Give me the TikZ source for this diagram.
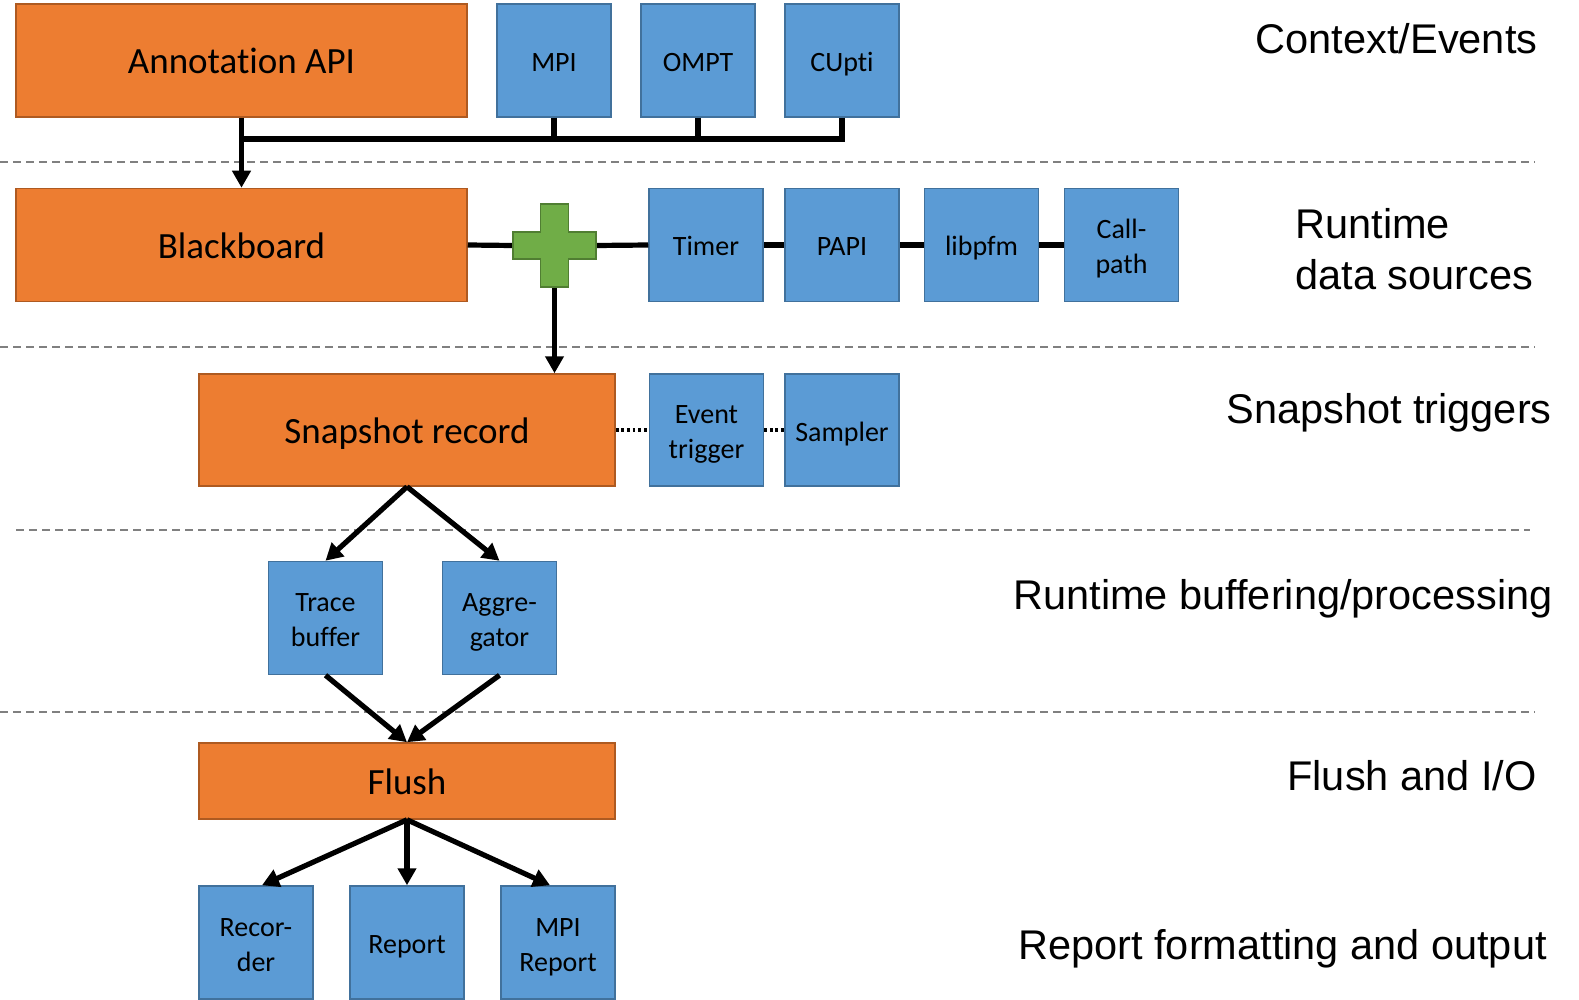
\documentclass[tikz,border=0pt]{standalone}
\usepackage{fontspec}
\usepackage{graphicx}
\setmainfont[Ligatures=NoCommon]{Carlito}
\newfontfamily\labfont{Liberation Sans}
\usetikzlibrary{arrows.meta,calc}
\newcommand\bstrt{\rule[-3pt]{0pt}{17pt}}
\newcommand\ostrt{\rule[-4.3pt]{0pt}{22pt}}
\newcommand\twol[2]{\rule{0pt}{14pt}#1\\#2\rule[-3pt]{0pt}{3pt}}
\definecolor{orng}{HTML}{ED7D31}
\definecolor{obord}{HTML}{AE5A21}
\definecolor{blu}{HTML}{5B9BD5}
\definecolor{bbord}{HTML}{41719C}
\definecolor{grn}{HTML}{70AD47}
\definecolor{gbord}{HTML}{507E32}
\definecolor{sepcol}{HTML}{808080}
\tikzset{
  orangebox/.style={rectangle, draw=obord, fill=orng, line width=0.75pt, inner sep=0pt,
    minimum height=56.5pt, font=\fontsize{18.5}{22}\selectfont,
    execute at begin node=\ostrt, execute at end node=\ostrt},
  bluebox/.style={rectangle, draw=bbord, fill=blu, line width=0.75pt, inner sep=0pt,
    minimum width=57pt, minimum height=56.5pt, align=center, font=\fontsize{14}{17.5}\selectfont},
  onel/.style={execute at begin node=\bstrt, execute at end node=\bstrt},
  conn/.style={line width=2.6pt, black},
  arr/.style={conn, -{Triangle[length=8.5pt,width=9pt]}},
  dotl/.style={line width=1.7pt, black, dash pattern=on 1.4pt off 1.4pt},
  sepline/.style={sepcol, line width=1pt, dash pattern=on 4pt off 2.5pt},
  lab/.style={anchor=base west, inner sep=0pt, align=left,
    font=\labfont\fontsize{20.75}{25.5}\selectfont},
}
\begin{document}
\begin{tikzpicture}[x=0.5pt,y=-0.5pt]
\useasboundingbox (0,0) rectangle (1579,1000);
% separators
\draw[sepline] (0,162) -- (1535,162);
\draw[sepline] (0,347) -- (1535,347);
\draw[sepline] (16,530) -- (1530,530);
\draw[sepline] (0,712) -- (1535,712);
% row 1
\node[orangebox, minimum width=225.5pt] (annot) at (241.5,60.5) {Annotation API};
\node[bluebox, onel] (mpi) at (554,60.5) {MPI};
\node[bluebox, onel] (ompt) at (698,60.5) {OMPT};
\node[bluebox, onel] (cupti) at (842,60.5) {CUpti};
% row 2
\node[orangebox, minimum width=225.5pt] (bb) at (241.5,245) {Blackboard};
\node[inner sep=0pt, minimum width=41.5pt, minimum height=41.5pt] (plus) at (554.5,245.5) {};
\node[bluebox, onel] (timer) at (706,245) {Timer};
\node[bluebox, onel] (papi) at (842,245) {PAPI};
\node[bluebox, onel] (libpfm) at (981.5,245) {libpfm};
\node[bluebox] (callpath) at (1121.5,245) {\twol{Call-}{path}};
% row 3
\node[orangebox, minimum width=208pt, minimum height=56pt] (snap) at (407,430) {Snapshot record};
\node[bluebox, minimum height=56pt] (evt) at (706.5,430) {\twol{Event}{trigger}};
\node[bluebox, onel, minimum height=56pt] (sampler) at (842,430) {Sampler};
% row 4
\node[bluebox] (trace) at (325.5,618) {\twol{Trace}{buffer}};
\node[bluebox] (agg) at (499.5,618) {\twol{Aggre-}{gator}};
% row 5
\node[orangebox, minimum width=208pt, minimum height=38pt] (flush) at (407,781) {Flush};
% row 6
\node[bluebox] (rec) at (256,942.5) {\twol{Recor-}{der}};
\node[bluebox, onel] (rep) at (407,942.5) {Report};
\node[bluebox] (mpirep) at (558,942.5) {\twol{MPI}{Report}};
% connectors row 1
\coordinate (busL) at (241.5,139);
\draw[conn] (mpi.south) -- (mpi.south |- busL);
\draw[conn] (ompt.south) -- (ompt.south |- busL);
\draw[conn] (cupti.south) |- (busL);
\draw[arr] (annot.south) -- (bb.north);
% connectors row 2
\draw[conn] (bb.east) -- (plus.west);
\draw[conn] (plus.east) -- (timer.west);
\draw[conn] (timer.east) -- (papi.west);
\draw[conn] (papi.east) -- (libpfm.west);
\draw[conn] (libpfm.east) -- (callpath.west);
\draw[arr] (plus.south) -- (plus.south |- snap.north);
\begin{scope}[shift={(plus.center)}]
\draw[fill=grn, draw=gbord, line width=0.75pt]
  (-41.5,-13.5) -- (-14,-13.5) -- (-14,-41.5) -- (14,-41.5) -- (14,-13.5) -- (41.5,-13.5)
  -- (41.5,13.5) -- (14,13.5) -- (14,41.5) -- (-14,41.5) -- (-14,13.5) -- (-41.5,13.5) -- cycle;
\end{scope}
% row 3
\draw[dotl] (snap.east) -- (evt.west);
\draw[dotl] (evt.east) -- (sampler.west);
\draw[arr] (snap.south) -- (trace.north);
\draw[arr] (snap.south) -- (agg.north);
\draw[arr] (trace.south) -- (flush.north);
\draw[arr] (agg.south) -- (flush.north);
\draw[arr] (flush.south) -- ([xshift=3pt]rec.north);
\draw[arr] (flush.south) -- (rep.north);
\draw[arr] (flush.south) -- ([xshift=-4pt]mpirep.north);
% labels
\node[lab] (l1) at (1255,54) {\resizebox{141pt}{\height}{Context/Events}};
\node[lab, anchor=north west] (l2) at (1295,208) {Runtime\\data sources};
\node[lab] (l3) at (1226,423) {Snapshot triggers};
\node[lab] (l4) at (1013,609) {Runtime buffering/processing};
\node[lab] (l5) at (1287,790) {Flush and I/O};
\node[lab] (l6) at (1018,959) {Report formatting and output};
\end{tikzpicture}
\end{document}
